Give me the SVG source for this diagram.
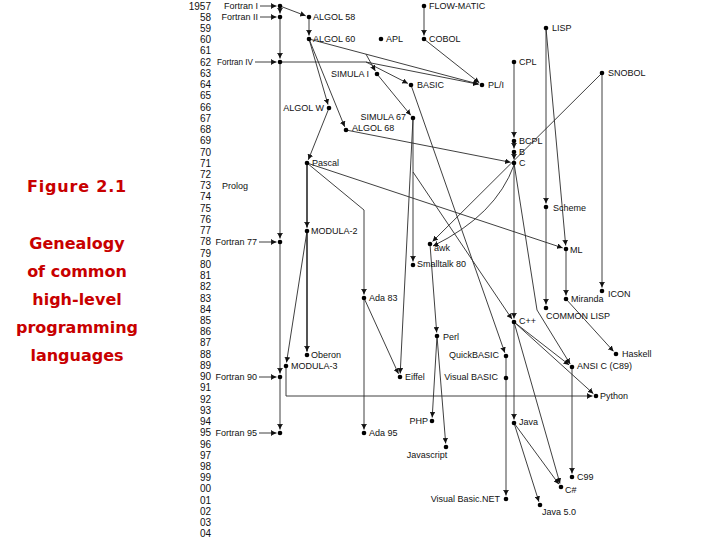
<svg xmlns="http://www.w3.org/2000/svg" width="720" height="540" viewBox="0 0 720 540">
<style>
.e{fill:none;stroke:#2a2a2a;stroke-width:0.9;marker-end:url(#a)}
.n{fill:none;stroke:#2a2a2a;stroke-width:0.9}
.t{stroke-width:1.6}
.d{fill:#000}
.l{font-family:"Liberation Sans",Arial,sans-serif;font-size:9px;fill:#111}
.r{text-anchor:end}
.m{text-anchor:middle}
.y{font-family:"Liberation Sans",Arial,sans-serif;font-size:10px;fill:#111;text-anchor:end}
.cap{font-family:"DejaVu Sans",sans-serif;font-size:16px;font-weight:bold;fill:#c80000;text-anchor:middle}
</style>
<defs>
<marker id="a" viewBox="0 0 6 6" refX="6" refY="3" markerWidth="5.5" markerHeight="5.5" orient="auto" markerUnits="userSpaceOnUse">
<path d="M0.5,0.4 L6,3 L0.5,5.6 Z" fill="#111"/>
<path d="M0.5,0 V6" stroke="#111" stroke-width="0.9"/>
</marker>
</defs>
<rect width="720" height="540" fill="#fff"/>

<g id="caption">
<text class="cap" x="77" y="192" letter-spacing="0.8">Figure 2.1</text>
<text class="cap" x="77" y="249">Genealogy</text>
<text class="cap" x="77" y="277">of common</text>
<text class="cap" x="77" y="305">high-level</text>
<text class="cap" x="77" y="333">programming</text>
<text class="cap" x="77" y="361">languages</text>
</g>

<g id="years">
<text class="y" x="211" y="9.5">1957</text>
<text class="y" x="211" y="20.7">58</text>
<text class="y" x="211" y="32">59</text>
<text class="y" x="211" y="43.2">60</text>
<text class="y" x="211" y="54.4">61</text>
<text class="y" x="211" y="65.6">62</text>
<text class="y" x="211" y="76.9">63</text>
<text class="y" x="211" y="88.1">64</text>
<text class="y" x="211" y="99.3">65</text>
<text class="y" x="211" y="110.6">66</text>
<text class="y" x="211" y="121.8">67</text>
<text class="y" x="211" y="133">68</text>
<text class="y" x="211" y="144.3">69</text>
<text class="y" x="211" y="155.5">70</text>
<text class="y" x="211" y="166.7">71</text>
<text class="y" x="211" y="178">72</text>
<text class="y" x="211" y="189.2">73</text>
<text class="y" x="211" y="200.4">74</text>
<text class="y" x="211" y="211.7">75</text>
<text class="y" x="211" y="222.9">76</text>
<text class="y" x="211" y="234.1">77</text>
<text class="y" x="211" y="245.3">78</text>
<text class="y" x="211" y="256.6">79</text>
<text class="y" x="211" y="267.8">80</text>
<text class="y" x="211" y="279">81</text>
<text class="y" x="211" y="290.3">82</text>
<text class="y" x="211" y="301.5">83</text>
<text class="y" x="211" y="312.7">84</text>
<text class="y" x="211" y="324">85</text>
<text class="y" x="211" y="335.2">86</text>
<text class="y" x="211" y="346.4">87</text>
<text class="y" x="211" y="357.7">88</text>
<text class="y" x="211" y="368.9">89</text>
<text class="y" x="211" y="380.1">90</text>
<text class="y" x="211" y="391.4">91</text>
<text class="y" x="211" y="402.6">92</text>
<text class="y" x="211" y="413.8">93</text>
<text class="y" x="211" y="425">94</text>
<text class="y" x="211" y="436.3">95</text>
<text class="y" x="211" y="447.5">96</text>
<text class="y" x="211" y="458.7">97</text>
<text class="y" x="211" y="470">98</text>
<text class="y" x="211" y="481.2">99</text>
<text class="y" x="211" y="492.4">00</text>
<text class="y" x="211" y="503.7">01</text>
<text class="y" x="211" y="514.9">02</text>
<text class="y" x="211" y="526.1">03</text>
<text class="y" x="211" y="537.4">04</text>
</g>

<g id="connectors">
<path class="e" d="M260,6H276.5"/>
<path class="e" d="M260,17H276.5"/>
<path class="e" d="M255,62H276.5"/>
<path class="e" d="M259,242H276.5"/>
<path class="e" d="M259,377H276.5"/>
<path class="e" d="M259,433H276.5"/>
<path class="e" d="M280,6V13.5"/>
<path class="e" d="M280,17V58.5"/>
<path class="e" d="M280,62V238.5"/>
<path class="e" d="M280,242V373.5"/>
<path class="e" d="M280,377V429.5"/>
<path class="e" d="M280,6L305.7,15.8"/>
<path class="e" d="M309,17V35.5"/>
<path class="e" d="M424,6V35.5"/>
<path class="e" d="M424,39L479.3,82.8"/>
<path class="e" d="M309,39L478.6,84.1"/>
<path class="e" d="M280,62H366L478.6,84.3"/>
<path class="e" d="M366,62L407.9,83.4"/>
<path class="e" d="M366,54.2L375.3,70.9"/>
<path class="e" d="M309,39L328,104.6"/>
<path class="e" d="M309,39L344.7,126.8"/>
<path class="e" d="M377,74L410.8,115.3"/>
<path class="e" d="M411,85L504.8,352.7"/>
<path class="e" d="M413,118V261.5"/>
<path class="e" d="M413,118L400.2,373.5"/>
<path class="e" d="M413,172L512,319.1"/>
<path class="e" d="M346,130L510.6,162.3"/>
<path class="e" d="M329,108L308.3,159.8"/>
<path class="e t" d="M307,163V227.5"/>
<path class="e" d="M307,163L364,210V294.5"/>
<path class="e" d="M307,163L562.7,247.9"/>
<path class="e" d="M514,62V137.5"/>
<path class="e" d="M514,141V148.5"/>
<path class="e" d="M514,152V159.5"/>
<path class="e" d="M602,73L432.5,241.5"/>
<path class="e" d="M514,165Q496,215 433,246"/>
<path class="e" d="M546,28V203.5"/>
<path class="e" d="M546,207V304.5"/>
<path class="e" d="M546,28L565.7,245.5"/>
<path class="e" d="M566,249V295.5"/>
<path class="e" d="M602,73V287.5"/>
<path class="e" d="M566,299L613.6,351.4"/>
<path class="e" d="M514,163V318.5"/>
<path class="e" d="M514,163L537,310L570.2,364"/>
<path class="e" d="M514,322L569.2,364.9"/>
<path class="e" d="M514,322L593.4,393.7"/>
<path class="e" d="M514,322V419.5"/>
<path class="e" d="M514,322L560,483.6"/>
<path class="e" d="M514,423L558.9,484.2"/>
<path class="e" d="M514,423L538.9,501.7"/>
<path class="e" d="M572,367V473.5"/>
<path class="n" d="M506,356V378"/>
<path class="e" d="M506,378V495.5"/>
<path class="e" d="M364,298V429.5"/>
<path class="e" d="M364,298L398.5,373.8"/>
<path class="e t" d="M307,231V351.5"/>
<path class="e" d="M307,231L286.5,362.5"/>
<path class="e" d="M286,366V396H592.5"/>
<path class="e" d="M430,244L436.7,332.5"/>
<path class="e" d="M437,336L432.2,417.5"/>
<path class="e" d="M437,336L445.7,443.5"/>
</g>

<g id="n-fortran1"><circle class="d" cx="280" cy="6" r="2.3"/><text class="l r" x="258" y="9">Fortran I</text></g>
<g id="n-fortran2"><circle class="d" cx="280" cy="17" r="2.3"/><text class="l r" x="258" y="20">Fortran II</text></g>
<g id="n-fortran4"><circle class="d" cx="280" cy="62" r="2.3"/><text class="l" x="217" y="65" textLength="36" lengthAdjust="spacingAndGlyphs">Fortran IV</text></g>
<g id="n-fortran77"><circle class="d" cx="280" cy="242" r="2.3"/><text class="l r" x="257" y="245">Fortran 77</text></g>
<g id="n-fortran90"><circle class="d" cx="280" cy="377" r="2.3"/><text class="l r" x="257" y="380">Fortran 90</text></g>
<g id="n-fortran95"><circle class="d" cx="280" cy="433" r="2.3"/><text class="l r" x="257" y="436">Fortran 95</text></g>
<g id="n-algol58"><circle class="d" cx="309" cy="17" r="2.3"/><text class="l" x="313" y="20">ALGOL 58</text></g>
<g id="n-algol60"><circle class="d" cx="309" cy="39" r="2.3"/><text class="l" x="313" y="42">ALGOL 60</text></g>
<g id="n-apl"><circle class="d" cx="381" cy="39" r="2.3"/><text class="l" x="386" y="42">APL</text></g>
<g id="n-flowmatic"><circle class="d" cx="424" cy="6" r="2.3"/><text class="l" x="429" y="9">FLOW-MATIC</text></g>
<g id="n-cobol"><circle class="d" cx="424" cy="39" r="2.3"/><text class="l" x="429" y="42">COBOL</text></g>
<g id="n-lisp"><circle class="d" cx="546" cy="28" r="2.3"/><text class="l" x="552" y="31">LISP</text></g>
<g id="n-cpl"><circle class="d" cx="514" cy="62" r="2.3"/><text class="l" x="519" y="65">CPL</text></g>
<g id="n-snobol"><circle class="d" cx="602" cy="73" r="2.3"/><text class="l" x="608" y="76">SNOBOL</text></g>
<g id="n-simula1"><circle class="d" cx="377" cy="74" r="2.3"/><text class="l r" x="369" y="77">SIMULA I</text></g>
<g id="n-basic"><circle class="d" cx="411" cy="85" r="2.3"/><text class="l" x="417" y="88">BASIC</text></g>
<g id="n-pl1"><circle class="d" cx="482" cy="85" r="2.3"/><text class="l" x="488" y="88">PL/I</text></g>
<g id="n-algolw"><circle class="d" cx="329" cy="108" r="2.3"/><text class="l r" x="324" y="111">ALGOL W</text></g>
<g id="n-simula67"><circle class="d" cx="413" cy="118" r="2.3"/><text class="l r" x="406" y="120">SIMULA 67</text></g>
<g id="n-algol68"><circle class="d" cx="346" cy="130" r="2.3"/><text class="l" x="352" y="131">ALGOL 68</text></g>
<g id="n-bcpl"><circle class="d" cx="514" cy="141" r="2.3"/><text class="l" x="519" y="144">BCPL</text></g>
<g id="n-b"><circle class="d" cx="514" cy="152" r="2.3"/><text class="l" x="519" y="155">B</text></g>
<g id="n-c"><circle class="d" cx="514" cy="163" r="2.3"/><text class="l" x="519" y="166">C</text></g>
<g id="n-pascal"><circle class="d" cx="307" cy="163" r="2.3"/><text class="l" x="312" y="166">Pascal</text></g>
<g id="n-prolog"><text class="l" x="222" y="189">Prolog</text></g>
<g id="n-scheme"><circle class="d" cx="546" cy="207" r="2.3"/><text class="l" x="553" y="211">Scheme</text></g>
<g id="n-modula2"><circle class="d" cx="307" cy="231" r="2.3"/><text class="l" x="311" y="234">MODULA-2</text></g>
<g id="n-awk"><circle class="d" cx="430" cy="244" r="2.3"/><text class="l" x="434" y="251">awk</text></g>
<g id="n-ml"><circle class="d" cx="566" cy="249" r="2.3"/><text class="l" x="570" y="253">ML</text></g>
<g id="n-smalltalk"><circle class="d" cx="413" cy="265" r="2.3"/><text class="l" x="417" y="267">Smalltalk 80</text></g>
<g id="n-icon"><circle class="d" cx="602" cy="291" r="2.3"/><text class="l" x="608" y="297">ICON</text></g>
<g id="n-ada83"><circle class="d" cx="364" cy="298" r="2.3"/><text class="l" x="369" y="301">Ada 83</text></g>
<g id="n-miranda"><circle class="d" cx="566" cy="299" r="2.3"/><text class="l" x="571" y="302">Miranda</text></g>
<g id="n-commonlisp"><circle class="d" cx="546" cy="308" r="2.3"/><text class="l" x="546" y="319">COMMON LISP</text></g>
<g id="n-cpp"><circle class="d" cx="514" cy="322" r="2.3"/><text class="l" x="519" y="324">C++</text></g>
<g id="n-perl"><circle class="d" cx="437" cy="336" r="2.3"/><text class="l" x="443" y="340">Perl</text></g>
<g id="n-oberon"><circle class="d" cx="307" cy="355" r="2.3"/><text class="l" x="311" y="358">Oberon</text></g>
<g id="n-quickbasic"><circle class="d" cx="506" cy="356" r="2.3"/><text class="l r" x="499" y="358">QuickBASIC</text></g>
<g id="n-haskell"><circle class="d" cx="616" cy="354" r="2.3"/><text class="l" x="622" y="357">Haskell</text></g>
<g id="n-modula3"><circle class="d" cx="286" cy="366" r="2.3"/><text class="l" x="291" y="369">MODULA-3</text></g>
<g id="n-ansic"><circle class="d" cx="572" cy="367" r="2.3"/><text class="l" x="577" y="369">ANSI C (C89)</text></g>
<g id="n-eiffel"><circle class="d" cx="400" cy="377" r="2.3"/><text class="l" x="405" y="380">Eiffel</text></g>
<g id="n-visualbasic"><circle class="d" cx="506" cy="378" r="2.3"/><text class="l r" x="498" y="380">Visual BASIC</text></g>
<g id="n-python"><circle class="d" cx="596" cy="396" r="2.3"/><text class="l" x="600" y="399">Python</text></g>
<g id="n-php"><circle class="d" cx="432" cy="421" r="2.3"/><text class="l r" x="428" y="424">PHP</text></g>
<g id="n-java"><circle class="d" cx="514" cy="423" r="2.3"/><text class="l" x="519" y="425">Java</text></g>
<g id="n-ada95"><circle class="d" cx="364" cy="433" r="2.3"/><text class="l" x="369" y="436">Ada 95</text></g>
<g id="n-javascript"><circle class="d" cx="446" cy="447" r="2.3"/><text class="l m" x="427" y="458">Javascript</text></g>
<g id="n-c99"><circle class="d" cx="572" cy="477" r="2.3"/><text class="l" x="577" y="480">C99</text></g>
<g id="n-csharp"><circle class="d" cx="561" cy="487" r="2.3"/><text class="l" x="565" y="493">C#</text></g>
<g id="n-vbnet"><circle class="d" cx="506" cy="499" r="2.3"/><text class="l r" x="500" y="502">Visual Basic.NET</text></g>
<g id="n-java5"><circle class="d" cx="540" cy="505" r="2.3"/><text class="l" x="542" y="515">Java 5.0</text></g>
</svg>
